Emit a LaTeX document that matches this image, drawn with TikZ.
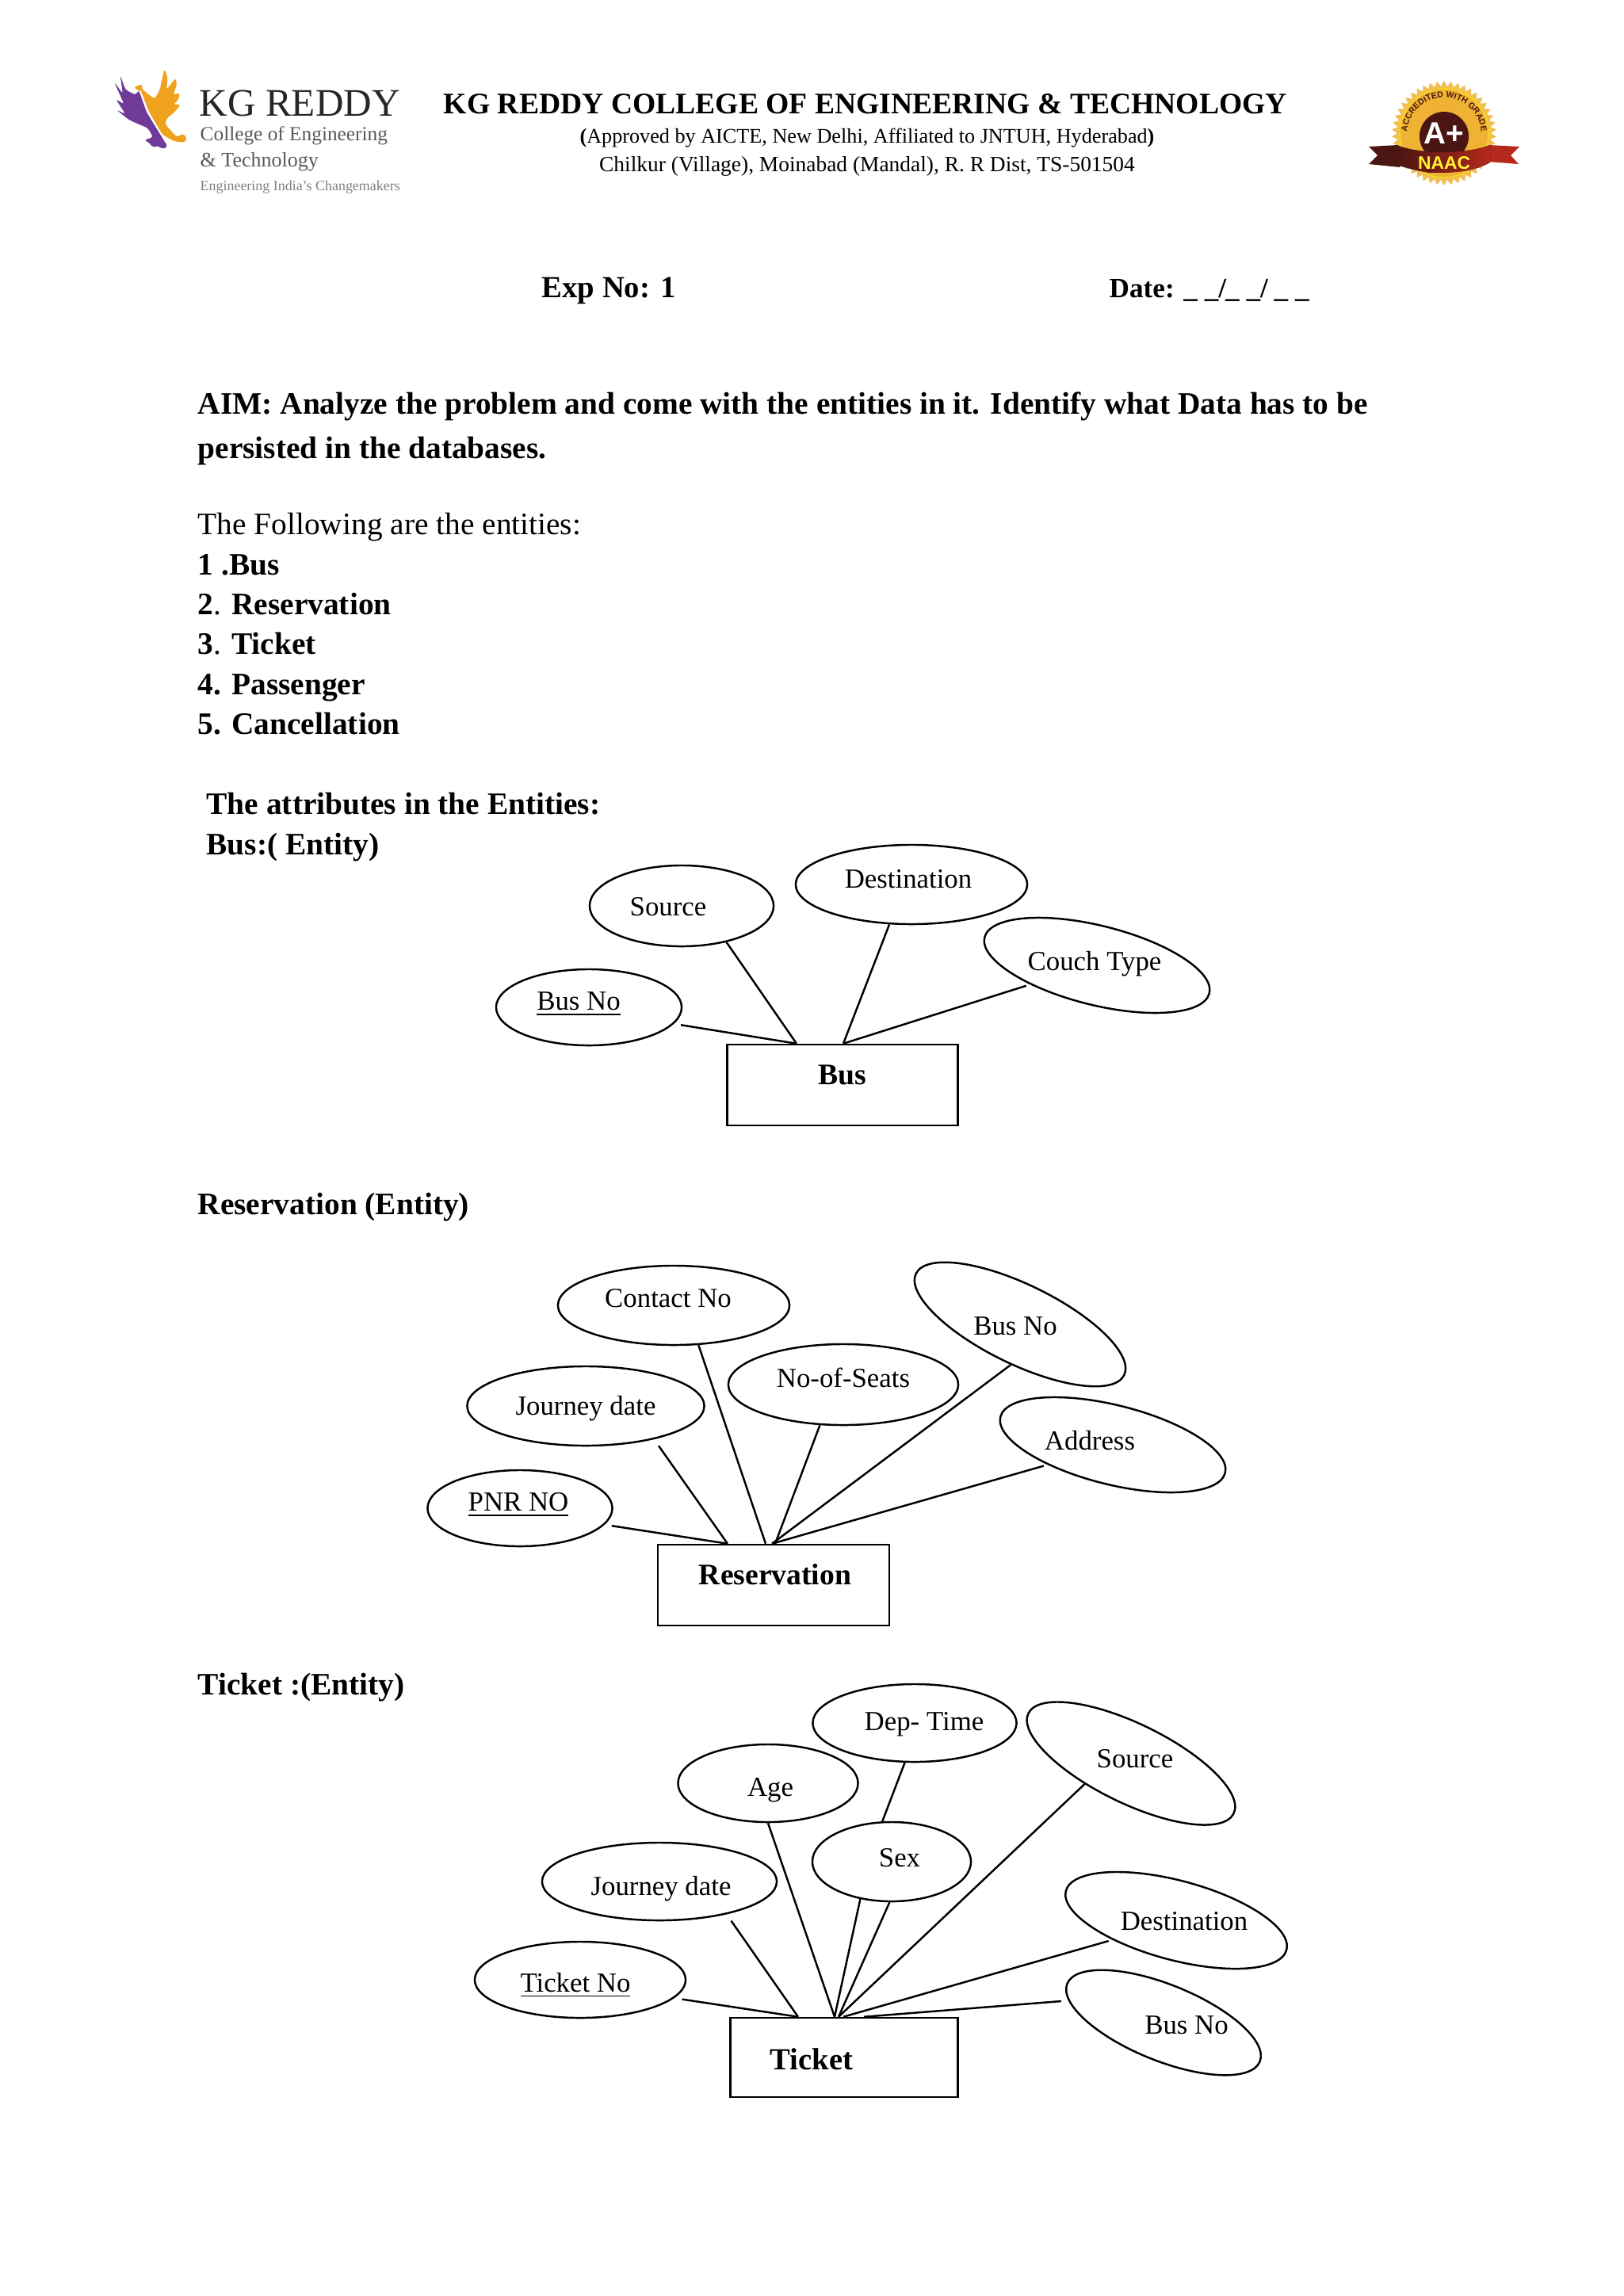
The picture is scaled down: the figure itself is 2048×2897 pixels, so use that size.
\documentclass[tikz,border=0pt]{standalone}
\usepackage{fontspec}
\setmainfont{Liberation Serif}
\setsansfont{Liberation Sans}
\usetikzlibrary{shapes.geometric, decorations.text}

\definecolor{wingpurple}{HTML}{6F3A98}
\definecolor{wingorange}{HTML}{EFA21E}
\definecolor{sealgold}{HTML}{EFB233}
\definecolor{sealdark}{HTML}{4A1512}
\definecolor{sealred}{HTML}{B5281C}

\tikzset{
  attr/.style={draw, ellipse, line width=0.7pt, inner sep=0pt, minimum width=#1},
  attr/.default=2.92cm,
  entity/.style={draw, rectangle, line width=0.7pt, inner sep=0pt},
  attrtxt/.style={inner sep=0pt, font=\fontsize{9.9}{12}\selectfont},
  enttxt/.style={inner sep=0pt, font=\fontsize{10.7}{13}\selectfont\bfseries},
  line/.style={anchor=base west, inner sep=0pt, font=\fontsize{11.2}{14}\selectfont},
  link/.style={line width=0.7pt},
}

\begin{document}
\begin{tikzpicture}[x=0.01cm, y=-0.01cm]

\useasboundingbox (0,0) rectangle (2048,2897);

\begin{scope}[shift={(130,70)}, scale=0.3333]
\fill[wingpurple, rounded corners=1pt] (135,130) -- (165,215) -- (245,345) -- (225,355) -- (205,340) -- (190,350) -- (175,330) -- (155,320) -- (190,310) -- (170,275) -- (100,245) -- (50,205) -- (85,222) -- (48,165) -- (80,185) -- (42,100) -- (75,145) -- (65,75) -- (85,130) -- (125,150) -- cycle;
\fill[wingorange, rounded corners=1pt] (115,120) -- (150,108) -- (145,125) -- (195,165) -- (215,130) -- (232,50) -- (245,85) -- (240,130) -- (275,85) -- (280,110) -- (265,150) -- (290,140) -- (285,170) -- (265,185) -- (295,185) -- (270,215) -- (240,240) -- (235,260) -- (280,310) -- (300,295) -- (318,310) -- (310,330) -- (270,325) -- (225,300) -- (175,215) -- (145,140) -- cycle;
\draw[white, line width=0.4pt] (140,133) -- (170,215) -- (236,325);
\end{scope}

\node[line, font=\fontsize{14}{16}\selectfont, text=black!85] (kgname) at (251,147) {KG REDDY};
\node[line, font=\fontsize{7.2}{10}\selectfont, text=black!65] (kgcollege) at (252,178) {College of Engineering};
\node[line, font=\fontsize{7.4}{10}\selectfont, text=black!65] (kgtech) at (252,210) {\& Technology};
\node[line, font=\fontsize{5.1}{7}\selectfont, text=black!50] (kgmotto) at (252,240) {Engineering India's Changemakers};

\node[inner sep=0pt, font=\fontsize{10.7}{13}\selectfont\bfseries] (college) at (1092,131) {KG REDDY COLLEGE OF ENGINEERING \& TECHNOLOGY};
\node[inner sep=0pt, font=\fontsize{7.45}{10}\selectfont] (approved) at (1094,174) {\textbf{(}Approved by AICTE, New Delhi, Affiliated to JNTUH, Hyderabad\textbf{)}};
\node[inner sep=0pt, font=\fontsize{7.8}{10}\selectfont] (address) at (1094,210) {Chilkur (Village), Moinabad (Mandal), R. R Dist, TS-501504};

\node[star, star points=46, star point ratio=1.12, fill=sealgold!85, inner sep=0pt, minimum size=1.32cm] (seal) at (1822,168) {};
\node[circle, fill=sealgold, draw=yellow!60!sealgold, inner sep=0pt, minimum size=1.12cm] (sealdisc) at (1822,168) {};
\node[circle, fill=sealdark, inner sep=0pt, minimum size=0.62cm] (sealcore) at (1822,172) {};
\path[decorate, decoration={text along path, text align=center, text color=sealdark, text={|\fontsize{3}{3}\selectfont\sffamily\bfseries|ACCREDITED WITH GRADE}}] (1775,170) arc[start angle=180, end angle=0, radius=0.47cm];
\node[inner sep=0pt, text=white, font=\fontsize{11}{12}\selectfont\sffamily\bfseries] (grade) at (1822,168) {A+};
\fill[sealdark] (1727,185) -- (1764,183) -- (1766,211) -- (1727,207) -- (1738,196) -- cycle;
\fill[sealred] (1917,185) -- (1878,183) -- (1877,204) -- (1916,207) -- (1906,196) -- cycle;
\fill[left color=sealdark, right color=sealred] (1762,183) .. controls (1790,195) and (1850,195) .. (1880,183) -- (1880,205) .. controls (1860,216) and (1840,218) .. (1805,218) .. controls (1790,216) and (1775,212) .. (1762,208) -- cycle;
\node[inner sep=0pt, text=yellow!80!white, font=\fontsize{6.5}{7}\selectfont\sffamily\bfseries] (naac) at (1822,206) {NAAC};

\node[line, font=\fontsize{11}{14}\selectfont\bfseries] (expno) at (683,375) {Exp No: 1};
\node[line, font=\fontsize{10}{14}\selectfont\bfseries] (expdate) at (1399,375) {Date: \_ \_\rlap{/} \_ \_\rlap{/} \ \_ \_};

\node[line, font=\fontsize{11.2}{14}\selectfont\bfseries] (aim) at (249,522) {AIM: Analyze the problem and come with the entities in it. Identify what Data has to be};
\node[line, font=\fontsize{11.2}{14}\selectfont\bfseries] (aimb) at (249,578) {persisted in the databases.};

\node[line] (listhead) at (249,674) {The Following are the entities:};
\node[line] (item1) at (249,725) {\textbf{1 .Bus}};
\node[line] (item2) at (249,775) {\textbf{2}. \textbf{Reservation}};
\node[line] (item3) at (249,825) {\textbf{3}. \textbf{Ticket}};
\node[line] (item4) at (249,876) {\textbf{4. Passenger}};
\node[line] (item5) at (249,926) {\textbf{5. Cancellation}};

\node[line] (attrhead) at (260,1027) {\textbf{The attributes in the Entities:}};
\node[line] (bushead) at (260,1078) {\textbf{Bus:( Entity)}};

\node[attr=2.34cm, minimum height=0.96cm] (busno) at (743,1271) {};
\node[attr=2.32cm, minimum height=1.02cm] (bussource) at (860,1143) {};
\node[attr, minimum height=1.00cm] (busdest) at (1150,1116) {};
\node[attr, minimum height=1.00cm, rotate=-14] (buscouch) at (1384,1218) {};
\node[entity, minimum width=2.91cm, minimum height=1.02cm] (bus) at (1063,1369) {};

\node[attrtxt] (busnotxt) at (730,1267) {\underline{Bus No}};
\node[attrtxt] (bussourcetxt) at (843,1144) {Source};
\node[attrtxt] (busdesttxt) at (1146,1109) {Destination};
\node[attrtxt] (buscouchtxt) at (1381,1216) {Couch Type};
\node[enttxt] (bustxt) at (1063,1356) {Bus};

\coordinate (busa) at ([xshift=-0.58cm]bus.north);
\coordinate (busb) at ([xshift=0.01cm]bus.north);

\draw[link, shorten <=0.09cm] (busno.-11) -- (busa);
\draw[link] (bussource.-39) -- (busa);
\draw[link] (busdest.-119) -- (busb);
\draw[link, shorten <=0.05cm] (buscouch.210) -- (busb);

\node[line] (reshead) at (249,1532) {\textbf{Reservation (Entity)}};

\node[attr=2.33cm, minimum height=0.96cm] (pnr) at (656,1903) {};
\node[attr=2.99cm, minimum height=1.00cm] (resjourney) at (739,1774) {};
\node[attr, minimum height=1.00cm] (rescontact) at (850,1647) {};
\node[attr=2.90cm, minimum height=1.02cm] (resseats) at (1064,1747) {};
\node[attr, minimum height=1.00cm, rotate=-26] (resbus) at (1287,1671) {};
\node[attr, minimum height=1.00cm, rotate=-14] (resaddr) at (1404,1823) {};
\node[entity, minimum width=2.92cm, minimum height=1.02cm] (res) at (976,2000) {};

\node[attrtxt] (pnrtxt) at (654,1899) {\underline{PNR NO}};
\node[attrtxt] (resjourneytxt) at (739,1777) {Journey date};
\node[attrtxt] (rescontacttxt) at (843,1638) {Contact No};
\node[attrtxt] (resseatstxt) at (1064,1738) {No-of-Seats};
\node[attrtxt] (resbustxt) at (1281,1673) {Bus No};
\node[attrtxt] (resaddrtxt) at (1375,1818) {Address};
\node[enttxt] (restxt) at (978,1987) {Reservation};

\coordinate (resa) at ([xshift=-0.58cm]res.north);
\coordinate (resb) at ([xshift=-0.10cm]res.north);
\coordinate (resc) at ([xshift=0.02cm]res.north);
\coordinate (resd) at ([xshift=-0.02cm]res.north);

\draw[link, shorten <=0.09cm] (pnr.-11) -- (resa);
\draw[link, shorten <=0.1cm] (resjourney.-26) -- (resa);
\draw[link] (rescontact.-58) -- (resb);
\draw[link] (resseats.-120) -- (resc);
\draw[link] (resbus.-77) -- (resd);
\draw[link, shorten <=0.05cm] (resaddr.211) -- (resd);

\node[line] (tickethead) at (249,2138) {\textbf{Ticket :(Entity)}};

\node[attr=2.66cm, minimum height=0.96cm] (ticketno) at (732,2498) {};
\node[attr=2.96cm, minimum height=0.98cm] (tktjourney) at (832,2374) {};
\node[attr=2.27cm, minimum height=0.98cm] (tktage) at (969,2250) {};
\node[attr=2.57cm, minimum height=0.98cm] (tktdep) at (1154,2174) {};
\node[attr=2.00cm, minimum height=1.00cm] (tktsex) at (1125,2349) {};
\node[attr=2.88cm, minimum height=1.00cm, rotate=-26] (tktsource) at (1427,2225) {};
\node[attr=2.88cm, minimum height=1.00cm, rotate=-15] (tktdest) at (1484,2423) {};
\node[attr=2.62cm, minimum height=0.96cm, rotate=-22] (tktbus) at (1468,2552) {};
\node[entity, minimum width=2.87cm, minimum height=1.00cm] (ticket) at (1065,2596) {};

\node[attrtxt] (ticketnotxt) at (726,2505) {\underline{Ticket No}};
\node[attrtxt] (tktjourneytxt) at (834,2383) {Journey date};
\node[attrtxt] (tktagetxt) at (972,2259) {Age};
\node[attrtxt] (tktdeptxt) at (1166,2176) {Dep- Time};
\node[attrtxt] (tktsextxt) at (1135,2344) {Sex};
\node[attrtxt] (tktsourcetxt) at (1432,2219) {Source};
\node[attrtxt] (tktdesttxt) at (1494,2424) {Destination};
\node[attrtxt] (tktbustxt) at (1497,2555) {Bus No};
\node[enttxt, font=\fontsize{11}{14}\selectfont\bfseries] (tickettxt) at (1024,2598) {Ticket};

\coordinate (tkta) at ([xshift=-0.58cm]ticket.north);
\coordinate (tktb) at ([xshift=-0.12cm]ticket.north);
\coordinate (tktc) at ([xshift=-0.07cm]ticket.north);
\coordinate (tktd) at ([xshift=-0.01cm]ticket.north);
\coordinate (tkte) at ([xshift=0.25cm]ticket.north);

\draw[link, shorten <=0.1cm] (ticketno.-11) -- (tkta);
\draw[link, shorten <=0.1cm] (tktjourney.-26) -- (tkta);
\draw[link] (tktage.south) -- (tktb);
\draw[link] (tktsex.-130) -- (tktb);
\draw[link] (tktsex.-93) -- (tktc);
\draw[link] (tktdep.-104) -- (tktsex.103);
\draw[link] (tktsource.230) -- (tktc);
\draw[link, shorten <=0.05cm] (tktdest.212) -- (tktd);
\draw[link, shorten <=0.09cm] (tktbus.189) -- (tkte);

\end{tikzpicture}
\end{document}
